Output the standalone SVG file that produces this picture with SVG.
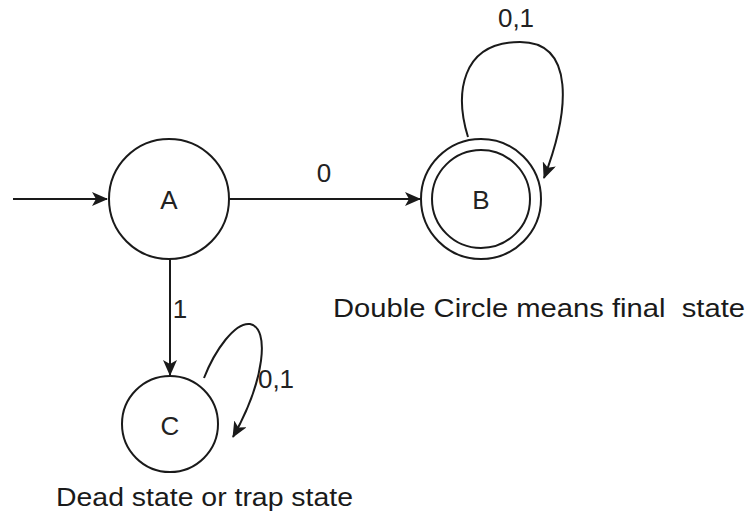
<svg xmlns="http://www.w3.org/2000/svg" width="748" height="516" viewBox="0 0 748 516">
  <style>
    .st { fill: #ffffff; stroke: #1a1a1a; stroke-width: 2; }
    .edge { fill: none; stroke: #1a1a1a; stroke-width: 2; }
    .lbl { font-family: "Liberation Sans", Arial, sans-serif; font-size: 26px; fill: #222222; }
    .note { font-family: "Liberation Sans", Arial, sans-serif; font-size: 26px; fill: #1a1a1a; white-space: pre; }
  </style>
  <defs>
    <marker id="arrow" viewBox="0 0 16 14" refX="15" refY="7" markerWidth="16" markerHeight="14" markerUnits="userSpaceOnUse" orient="auto">
      <path d="M0,0 L16,7 L0,14 L4,7 Z" fill="#1a1a1a"/>
    </marker>
  </defs>
  <rect width="748" height="516" fill="#ffffff"/>

  <g id="connectors">
    <line class="edge" x1="13" y1="199" x2="107" y2="199" marker-end="url(#arrow)"/>
    <line class="edge" x1="229" y1="199" x2="420" y2="199" marker-end="url(#arrow)"/>
    <line class="edge" x1="170" y1="259" x2="170" y2="375" marker-end="url(#arrow)"/>
    <path class="edge" d="M468,137 C455,95 460,42 520,42 C575,42 570,110 544,178" marker-end="url(#arrow)"/>
    <path class="edge" d="M204,378 C215,350 235,322 250,324 C270,328 265,380 233,437" marker-end="url(#arrow)"/>
    <text class="lbl" x="324" y="182" text-anchor="middle">0</text>
    <text class="lbl" x="180" y="318" text-anchor="middle">1</text>
    <text class="lbl" x="516" y="27" text-anchor="middle">0,1</text>
    <text class="lbl" x="276" y="388" text-anchor="middle">0,1</text>
  </g>

  <g id="state-A">
    <circle class="st" cx="169" cy="199" r="60"/>
    <text class="lbl" x="169" y="209" text-anchor="middle">A</text>
  </g>
  <g id="state-B">
    <circle class="st" cx="481" cy="199" r="60"/>
    <circle class="st" cx="481" cy="199" r="49"/>
    <text class="lbl" x="481" y="209" text-anchor="middle">B</text>
  </g>
  <g id="state-C">
    <circle class="st" cx="170" cy="424" r="48"/>
    <text class="lbl" x="170" y="435" text-anchor="middle">C</text>
  </g>

  <g id="notes">
    <text class="note" x="333" y="317" textLength="412" lengthAdjust="spacingAndGlyphs" xml:space="preserve">Double Circle means final  state</text>
    <text class="note" x="56" y="506" textLength="297" lengthAdjust="spacingAndGlyphs">Dead state or trap state</text>
  </g>
</svg>
